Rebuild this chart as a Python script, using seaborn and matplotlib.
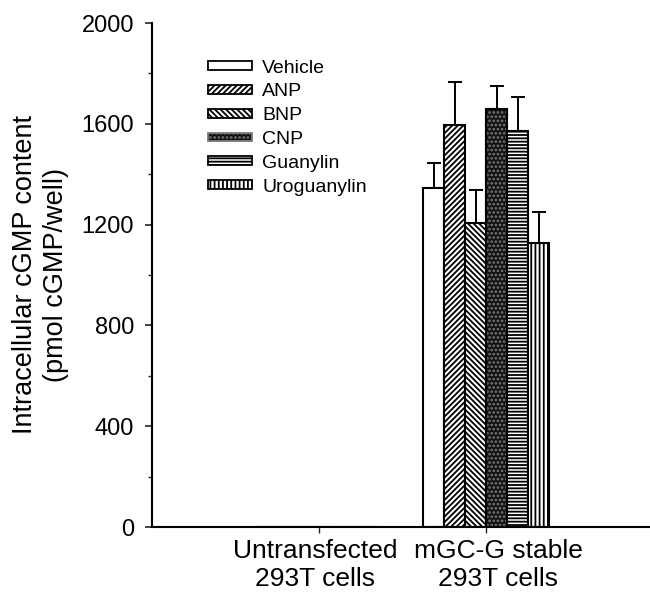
import pandas as pd
import matplotlib
matplotlib.use("Agg")
import matplotlib.pyplot as plt
import matplotlib.transforms as mtransforms
from matplotlib.patches import Patch, Rectangle
from matplotlib.ticker import MultipleLocator
import seaborn as sns

# values
groups = ["Untransfected\n293T cells", "mGC-G stable\n293T cells"]
treatments = ["Vehicle", "ANP", "BNP", "CNP", "Guanylin", "Uroguanylin"]
untransfected_mean = [0, 0, 0, 0, 0, 0]
untransfected_err = [0, 0, 0, 0, 0, 0]
stable_mean = [1345, 1595, 1205, 1660, 1570, 1128]
stable_err = [100, 170, 132, 90, 135, 122]

hatches = ["", "//////", "\\\\\\\\\\\\", "....", "-----", "||||"]
faces = ["white", "white", "white", "#111111", "white", "white"]
dot_color = "#7a7a7a"

rows = []
for g, means, errs in [(groups[0], untransfected_mean, untransfected_err),
                       (groups[1], stable_mean, stable_err)]:
    for t, m, e in zip(treatments, means, errs):
        rows.append({"group": g, "treatment": t, "value": m, "err": e})
df = pd.DataFrame(rows)

sns.set_theme(style="ticks")
plt.rcParams["font.family"] = ["Liberation Sans", "DejaVu Sans"]
plt.rcParams["hatch.linewidth"] = 1.3

fig = plt.figure(figsize=(6.5, 5.94), dpi=100)
ax = fig.add_axes([152 / 650, 67 / 594, 498 / 650, 504 / 594])

sns.barplot(data=df, x="group", y="value", hue="treatment", order=groups,
            hue_order=treatments, palette=["white"] * 6, errorbar=None,
            width=0.755, edgecolor="black", linewidth=1.5, legend=False, ax=ax)

# style each hue container and add the upward error bars
bar_containers = list(ax.containers)
for i, cont in enumerate(bar_containers):
    sub = df[df["treatment"] == treatments[i]].set_index("group").loc[groups]
    for patch, (m, e) in zip(cont.patches, zip(sub["value"], sub["err"])):
        patch.set_facecolor(faces[i])
        patch.set_hatch(hatches[i])
        if treatments[i] == "CNP":
            patch.set_edgecolor(dot_color)
            ax.add_patch(Rectangle(patch.get_xy(), patch.get_width(), patch.get_height(),
                                   fill=False, edgecolor="black", linewidth=1.5,
                                   zorder=patch.get_zorder() + 0.1))
        if m > 0:
            cx = patch.get_x() + patch.get_width() / 2
            ax.errorbar(cx, m, yerr=[[0], [e]], fmt="none", ecolor="black",
                        elinewidth=1.4, capsize=5, capthick=1.4, zorder=1)

ax.set_xlim(-1.0, 1.98)
ax.set_ylim(0, 2000)
ax.yaxis.set_major_locator(MultipleLocator(400))
ax.yaxis.set_minor_locator(MultipleLocator(200))
ax.tick_params(axis="y", which="major", length=5, width=1.2, pad=8, labelsize=17, direction="out")
ax.tick_params(axis="y", which="minor", length=3, width=1.0, direction="out")
ax.tick_params(axis="x", length=4, width=1.0, pad=5, labelsize=19, direction="out")
ax.set_xlabel("")
ax.set_ylabel("Intracellular cGMP content\n(pmol cGMP/well)", fontsize=19.5,
              linespacing=1.22, labelpad=9, color="black")
for lab in ax.get_xticklabels() + ax.get_yticklabels():
    lab.set_color("black")

# nudge the category labels like in the original
for lab, dx in zip(ax.get_xticklabels(), [-4, 12]):
    lab.set_transform(lab.get_transform() +
                      mtransforms.ScaledTranslation(dx / 100, 0, fig.dpi_scale_trans))

sns.despine(ax=ax)
for side in ["left", "bottom"]:
    ax.spines[side].set_color("black")
    ax.spines[side].set_linewidth(1.5)

handles = [Patch(facecolor=faces[i], edgecolor=dot_color if treatments[i] == "CNP" else "black",
                 hatch=hatches[i], linewidth=1.3) for i in range(len(treatments))]
leg = ax.legend(handles, treatments, loc="upper left", bbox_to_anchor=(0.096, 0.943),
                frameon=False, fontsize=14, handlelength=2.3, handleheight=0.32,
                handletextpad=0.5, labelspacing=0.35, borderaxespad=0)
for txt in leg.get_texts():
    txt.set_color("black")

fig.savefig("out.png", dpi=100)
